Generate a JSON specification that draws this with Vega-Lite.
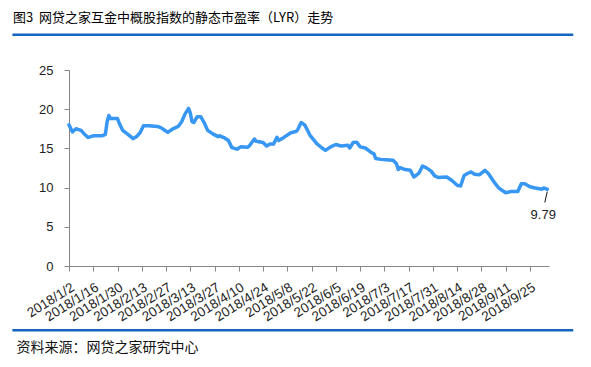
{
  "$schema": "https://vega.github.io/schema/vega-lite/v6.json",
  "width": 480,
  "height": 196,
  "autosize": "none",
  "padding": {"left": 69, "top": 70, "right": 42, "bottom": 101},
  "background": "white",
  "config": {
    "view": {"stroke": null},
    "font": "Liberation Sans",
    "axis": {"labelOverlap": false, "grid": false, "domainColor": "#888888", "tickColor": "#888888", "labelColor": "#222222", "labelFontSize": 13, "labelFont": "Liberation Sans", "tickSize": 5}
  },
  "title": {
    "text": "图3\u00a0\u00a0网贷之家互金中概股指数的静态市盈率（LYR）走势",
    "anchor": "start",
    "frame": "group",
    "dx": -56,
    "offset": 8,
    "fontSize": 13,
    "fontWeight": "normal",
    "font": "Noto Sans CJK SC",
    "color": "#000000"
  },
  "resolve": {"axis": {"x": "independent", "y": "independent"}},
  "data": {
    "values": [
      {"date": "2018-01-02", "value": 18.0},
      {"date": "2018-01-04", "value": 17.1},
      {"date": "2018-01-06", "value": 17.5},
      {"date": "2018-01-09", "value": 17.3},
      {"date": "2018-01-11", "value": 16.8},
      {"date": "2018-01-13", "value": 16.4},
      {"date": "2018-01-16", "value": 16.6},
      {"date": "2018-01-21", "value": 16.6},
      {"date": "2018-01-23", "value": 16.8},
      {"date": "2018-01-24", "value": 18.4},
      {"date": "2018-01-25", "value": 19.2},
      {"date": "2018-01-26", "value": 18.8},
      {"date": "2018-01-30", "value": 18.8},
      {"date": "2018-01-31", "value": 18.2},
      {"date": "2018-02-02", "value": 17.3},
      {"date": "2018-02-05", "value": 16.8},
      {"date": "2018-02-08", "value": 16.25},
      {"date": "2018-02-10", "value": 16.5},
      {"date": "2018-02-12", "value": 17.0},
      {"date": "2018-02-14", "value": 17.9},
      {"date": "2018-02-17", "value": 17.9},
      {"date": "2018-02-22", "value": 17.8},
      {"date": "2018-02-24", "value": 17.65},
      {"date": "2018-02-26", "value": 17.35},
      {"date": "2018-02-28", "value": 17.05},
      {"date": "2018-03-03", "value": 17.5},
      {"date": "2018-03-06", "value": 17.8},
      {"date": "2018-03-08", "value": 18.4},
      {"date": "2018-03-10", "value": 19.4},
      {"date": "2018-03-12", "value": 20.1},
      {"date": "2018-03-13", "value": 19.5},
      {"date": "2018-03-14", "value": 18.4},
      {"date": "2018-03-15", "value": 18.3},
      {"date": "2018-03-17", "value": 19.05},
      {"date": "2018-03-19", "value": 19.05},
      {"date": "2018-03-21", "value": 18.3},
      {"date": "2018-03-23", "value": 17.3},
      {"date": "2018-03-26", "value": 16.85},
      {"date": "2018-03-29", "value": 16.5},
      {"date": "2018-03-30", "value": 16.6},
      {"date": "2018-04-02", "value": 16.3},
      {"date": "2018-04-04", "value": 16.0},
      {"date": "2018-04-06", "value": 15.1},
      {"date": "2018-04-09", "value": 14.9},
      {"date": "2018-04-11", "value": 15.2},
      {"date": "2018-04-15", "value": 15.15},
      {"date": "2018-04-16", "value": 15.3},
      {"date": "2018-04-19", "value": 16.2},
      {"date": "2018-04-20", "value": 15.9},
      {"date": "2018-04-24", "value": 15.75},
      {"date": "2018-04-26", "value": 15.3},
      {"date": "2018-04-28", "value": 15.55},
      {"date": "2018-04-30", "value": 15.55},
      {"date": "2018-05-02", "value": 16.4},
      {"date": "2018-05-03", "value": 16.0},
      {"date": "2018-05-06", "value": 16.4},
      {"date": "2018-05-10", "value": 17.0},
      {"date": "2018-05-13", "value": 17.15},
      {"date": "2018-05-14", "value": 17.4},
      {"date": "2018-05-16", "value": 18.3},
      {"date": "2018-05-18", "value": 18.0},
      {"date": "2018-05-20", "value": 17.15},
      {"date": "2018-05-21", "value": 16.7},
      {"date": "2018-05-25", "value": 15.6},
      {"date": "2018-05-28", "value": 15.05},
      {"date": "2018-05-30", "value": 14.75},
      {"date": "2018-06-02", "value": 15.2},
      {"date": "2018-06-05", "value": 15.5},
      {"date": "2018-06-08", "value": 15.3},
      {"date": "2018-06-12", "value": 15.4},
      {"date": "2018-06-13", "value": 15.05},
      {"date": "2018-06-15", "value": 15.75},
      {"date": "2018-06-17", "value": 15.8},
      {"date": "2018-06-19", "value": 15.2},
      {"date": "2018-06-22", "value": 15.05},
      {"date": "2018-06-25", "value": 14.55},
      {"date": "2018-06-27", "value": 14.3},
      {"date": "2018-06-28", "value": 13.7},
      {"date": "2018-07-01", "value": 13.6},
      {"date": "2018-07-04", "value": 13.55},
      {"date": "2018-07-08", "value": 13.5},
      {"date": "2018-07-10", "value": 13.05},
      {"date": "2018-07-11", "value": 12.3},
      {"date": "2018-07-12", "value": 12.55},
      {"date": "2018-07-15", "value": 12.3},
      {"date": "2018-07-18", "value": 12.2},
      {"date": "2018-07-20", "value": 11.35},
      {"date": "2018-07-23", "value": 11.85},
      {"date": "2018-07-25", "value": 12.75},
      {"date": "2018-07-27", "value": 12.55},
      {"date": "2018-07-30", "value": 12.1},
      {"date": "2018-08-01", "value": 11.5},
      {"date": "2018-08-03", "value": 11.3},
      {"date": "2018-08-08", "value": 11.35},
      {"date": "2018-08-11", "value": 10.9},
      {"date": "2018-08-14", "value": 10.3},
      {"date": "2018-08-16", "value": 10.2},
      {"date": "2018-08-18", "value": 11.55},
      {"date": "2018-08-20", "value": 11.8},
      {"date": "2018-08-22", "value": 12.0},
      {"date": "2018-08-24", "value": 11.7},
      {"date": "2018-08-27", "value": 11.65},
      {"date": "2018-08-30", "value": 12.2},
      {"date": "2018-09-01", "value": 11.8},
      {"date": "2018-09-04", "value": 10.8},
      {"date": "2018-09-07", "value": 9.95},
      {"date": "2018-09-11", "value": 9.35},
      {"date": "2018-09-14", "value": 9.5},
      {"date": "2018-09-18", "value": 9.5},
      {"date": "2018-09-20", "value": 10.5},
      {"date": "2018-09-22", "value": 10.5},
      {"date": "2018-09-25", "value": 10.1},
      {"date": "2018-09-28", "value": 9.95},
      {"date": "2018-10-02", "value": 9.8},
      {"date": "2018-10-03", "value": 9.95},
      {"date": "2018-10-04", "value": 9.87},
      {"date": "2018-10-05", "value": 9.79}
    ]
  },
  "layer": [
    {
      "mark": {"type": "line", "color": "#3797f2", "strokeWidth": 3.5, "strokeJoin": "round", "strokeCap": "round"},
      "encoding": {
        "x": {
          "field": "date",
          "type": "temporal",
          "scale": {
            "type": "utc",
            "domain": [
              {"year": 2018, "month": 1, "date": 2, "utc": true},
              {"year": 2018, "month": 10, "date": 6, "utc": true}
            ]
          },
          "axis": {
            "values": [
              {"year": 2018, "month": 1, "date": 2, "utc": true},
              {"year": 2018, "month": 1, "date": 16, "utc": true},
              {"year": 2018, "month": 1, "date": 30, "utc": true},
              {"year": 2018, "month": 2, "date": 13, "utc": true},
              {"year": 2018, "month": 2, "date": 27, "utc": true},
              {"year": 2018, "month": 3, "date": 13, "utc": true},
              {"year": 2018, "month": 3, "date": 27, "utc": true},
              {"year": 2018, "month": 4, "date": 10, "utc": true},
              {"year": 2018, "month": 4, "date": 24, "utc": true},
              {"year": 2018, "month": 5, "date": 8, "utc": true},
              {"year": 2018, "month": 5, "date": 22, "utc": true},
              {"year": 2018, "month": 6, "date": 5, "utc": true},
              {"year": 2018, "month": 6, "date": 19, "utc": true},
              {"year": 2018, "month": 7, "date": 3, "utc": true},
              {"year": 2018, "month": 7, "date": 17, "utc": true},
              {"year": 2018, "month": 7, "date": 31, "utc": true},
              {"year": 2018, "month": 8, "date": 14, "utc": true},
              {"year": 2018, "month": 8, "date": 28, "utc": true},
              {"year": 2018, "month": 9, "date": 11, "utc": true},
              {"year": 2018, "month": 9, "date": 25, "utc": true}
            ],
            "format": "%Y/%-m/%-d",
            "labelAngle": -32,
            "labelAlign": "right",
            "labelBaseline": "top",
            "labelPadding": 9,
            "labelFontSize": 13.5,
            "labelOverlap": false,
            "labelFlush": false,
            "labelBound": false,
            "title": "资料来源：网贷之家研究中心",
            "titleX": -53,
            "titleY": 81,
            "titleAlign": "left",
            "titleBaseline": "middle",
            "titleAnchor": "start",
            "titleAngle": 0,
            "titleFont": "Noto Sans CJK SC",
            "titleFontSize": 14,
            "titleFontWeight": "normal",
            "titleColor": "#111111"
          }
        },
        "y": {
          "field": "value",
          "type": "quantitative",
          "scale": {"domain": [0, 25], "nice": false},
          "axis": {
            "values": [0, 5, 10, 15, 20, 25],
            "labelOverlap": false,
            "labelPadding": 11,
            "title": null
          }
        }
      }
    },
    {
      "transform": [{"filter": "datum.value == 9.79"}],
      "mark": {"type": "text", "dx": -4, "dy": 26, "fontSize": 13, "font": "Liberation Sans", "color": "#222222", "align": "center", "baseline": "middle"},
      "encoding": {
        "x": {"field": "date", "type": "temporal", "axis": null},
        "y": {"field": "value", "type": "quantitative", "axis": null},
        "text": {"field": "value", "type": "quantitative", "format": ".2f"}
      }
    },
    {
      "data": {"values": [{}]},
      "mark": {"type": "rule", "color": "#111111", "strokeWidth": 1},
      "encoding": {
        "x": {"datum": {"year": 2018, "month": 10, "date": 5, "utc": true}, "type": "temporal", "axis": null},
        "x2": {"datum": {"year": 2018, "month": 10, "date": 3, "hours": 14, "utc": true}},
        "y": {"datum": 9.5, "type": "quantitative", "axis": null},
        "y2": {"datum": 8.1}
      }
    },
    {
      "data": {"values": [{}]},
      "mark": {"type": "rule", "color": "#1565c0", "strokeWidth": 2.5},
      "encoding": {
        "x": {"datum": {"year": 2017, "month": 11, "date": 30, "hours": 8, "utc": true}, "type": "temporal", "axis": null},
        "x2": {"datum": {"year": 2018, "month": 10, "date": 20, "utc": true}},
        "y": {"datum": 29.5, "type": "quantitative", "axis": null}
      }
    },
    {
      "data": {"values": [{}]},
      "mark": {"type": "rule", "color": "#1565c0", "strokeWidth": 2.5},
      "encoding": {
        "x": {"datum": {"year": 2017, "month": 11, "date": 30, "hours": 8, "utc": true}, "type": "temporal", "axis": null},
        "x2": {"datum": {"year": 2018, "month": 10, "date": 20, "utc": true}},
        "y": {"datum": -8.2, "type": "quantitative", "axis": null}
      }
    }
  ]
}
